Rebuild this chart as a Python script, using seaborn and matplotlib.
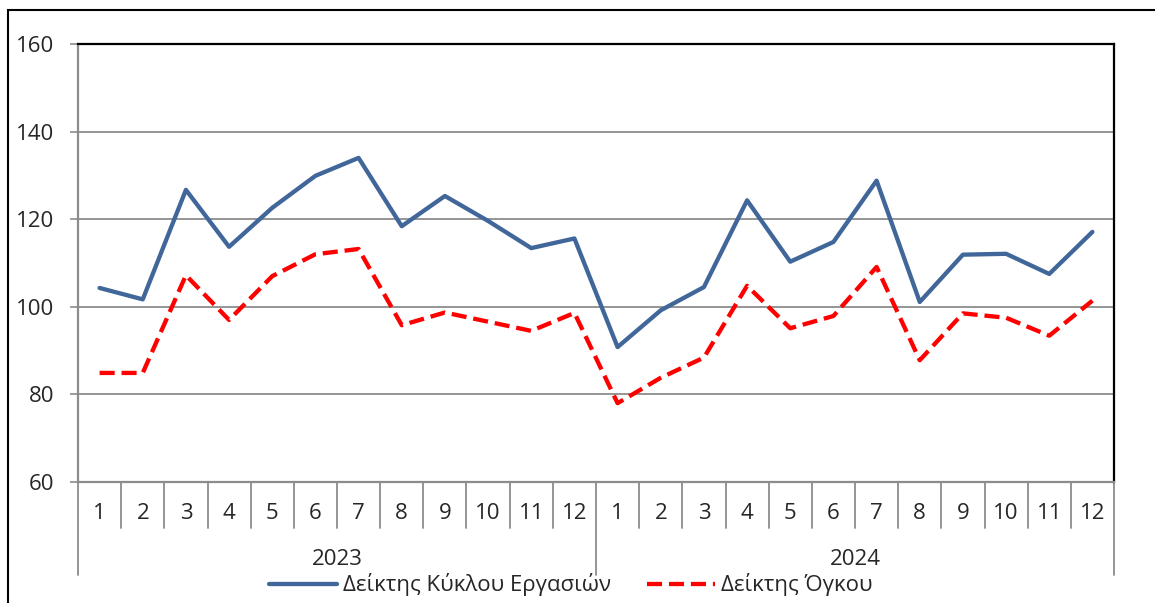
import numpy as np
import pandas as pd
import matplotlib
matplotlib.use("Agg")
import matplotlib.pyplot as plt
import seaborn as sns
from matplotlib.patches import Rectangle

# data
years = ["2023", "2024"]
months = [str(m) for m in range(1, 13)]
turnover = [104.3, 101.7, 126.7, 113.7, 122.6, 129.9, 134.0, 118.4, 125.3, 119.6, 113.4, 115.6,
            90.8, 99.2, 104.5, 124.3, 110.3, 114.8, 128.8, 101.1, 111.9, 112.1, 107.5, 117.1]
volume = [84.9, 84.9, 107.2, 97.0, 107.0, 112.0, 113.2, 95.8, 98.7, 96.6, 94.5, 98.6,
          78.0, 83.8, 88.4, 104.8, 95.1, 97.9, 109.1, 87.8, 98.5, 97.5, 93.4, 101.4]
series_names = ["Δείκτης Κύκλου Εργασιών", "Δείκτης Όγκου"]

sns.set_style("white")
plt.rcParams['font.family'] = ['Open Sans', 'DejaVu Sans']
FS = 16

n = len(turnover)
pos = np.arange(n)
df = pd.DataFrame({
    "pos": np.concatenate([pos, pos]),
    "value": turnover + volume,
    "series": [series_names[0]] * n + [series_names[1]] * n,
})

W, H = 1155, 603
fig = plt.figure(figsize=(W / 100, H / 100), dpi=100)
ax = fig.add_axes([78 / W, 1 - 482 / H, (1114 - 78) / W, (482 - 44) / H])

sns.lineplot(data=df, x="pos", y="value", hue="series", style="series",
             palette={series_names[0]: "#41679A", series_names[1]: "#FF0000"},
             dashes={series_names[0]: "", series_names[1]: (3.5, 1.6)},
             linewidth=3.1, ax=ax, legend=False)

ax.set_xlim(-0.5, n - 0.5)
ax.set_ylim(60, 160)
ax.set_yticks(range(60, 161, 20))
ax.yaxis.grid(True, color="#8C8C8C", linewidth=1.3)
ax.set_axisbelow(True)
ax.set_xlabel("")
ax.set_ylabel("")
ax.set_xticks([])
ax.tick_params(axis="y", length=6, width=1.2, color="#8C8C8C", labelsize=FS, pad=11, left=True)

for s in ["top", "right"]:
    ax.spines[s].set_color("black")
    ax.spines[s].set_linewidth(1.6)
for s in ["left", "bottom"]:
    ax.spines[s].set_color("#8C8C8C")
    ax.spines[s].set_linewidth(1.6)

# two-level category axis
tr = ax.get_xaxis_transform()
for i in range(n):
    ax.text(i, -0.071, months[i % 12], transform=tr, ha="center", va="center", fontsize=FS)
for b in range(n + 1):
    depth = -0.213 if b % 12 == 0 else -0.105
    ax.plot([b - 0.5, b - 0.5], [0, depth], transform=tr, color="#8C8C8C",
            linewidth=1.3, clip_on=False)
for k, yr in enumerate(years):
    ax.text(k * 12 + 5.5, -0.178, yr, transform=tr, ha="center", va="center", fontsize=FS)

handles = [plt.Line2D([], [], color="#41679A", linewidth=3.1),
           plt.Line2D([], [], color="#FF0000", linewidth=3.1, dashes=(3.5, 1.6))]
fig.legend(handles, series_names, loc="center", bbox_to_anchor=(571 / W, 1 - 585 / H),
           ncol=2, frameon=False, fontsize=FS, handlelength=3.06, handletextpad=0.28,
           columnspacing=1.6, borderpad=0.1)

# chart frame
fig.patches.append(Rectangle((8 / W, -0.05), 1.1, 1 - 10 / H + 0.05, transform=fig.transFigure,
                             fill=False, edgecolor="black", linewidth=1.5))

fig.savefig("out.png", dpi=100)
